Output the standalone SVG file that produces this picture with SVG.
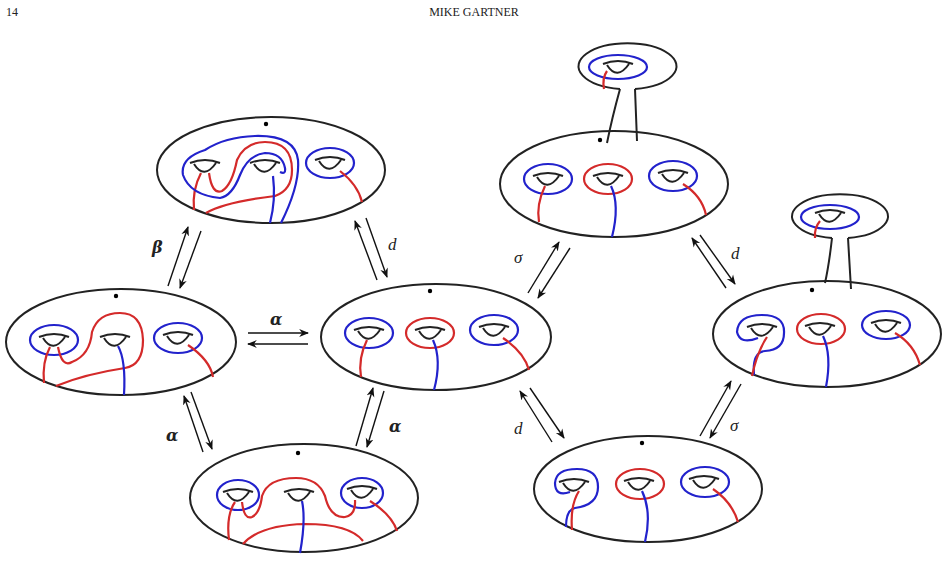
<svg xmlns="http://www.w3.org/2000/svg" width="949" height="580" viewBox="0 0 949 580">
<style>
.s{fill:none;stroke:#222;stroke-width:2}
.h{fill:none;stroke:#222;stroke-width:2}
.b{fill:none;stroke:#2222cc;stroke-width:2.2}
.r{fill:none;stroke:#d42a2a;stroke-width:2.2}
.a{stroke:#111;stroke-width:1.4;marker-end:url(#m)}
.t{font-family:"Liberation Serif",serif;font-size:17px;font-style:italic;fill:#222}
.tb{font-family:"DejaVu Serif",serif;font-size:16px;font-style:italic;font-weight:bold;fill:#222}
.hd{font-family:"Liberation Serif",serif;font-size:12px;fill:#222}
</style>
<defs>
<marker id="m" viewBox="0 0 10 10" refX="9" refY="5" markerWidth="7" markerHeight="7" orient="auto"><path d="M0,1 L10,5 L0,9 L3,5z" fill="#111"/></marker>
<path id="hole" class="h" d="M-15,-5 Q0,-11 15,-5 M-11,-4 Q-1,12 11,-5"/>
</defs>
<rect width="949" height="580" fill="#fff"/>
<text class="hd" x="6" y="16">14</text>
<text class="hd" x="474" y="16" text-anchor="middle">MIKE GARTNER</text>

<g id="n1">
<ellipse class="s" cx="271" cy="170" rx="114" ry="53"/>
<circle cx="266" cy="124" r="2.2"/>
<use href="#hole" x="205" y="168"/><use href="#hole" x="265" y="168"/><use href="#hole" x="330" y="165"/>
<ellipse class="b" cx="330" cy="163" rx="24" ry="15"/>
<path class="r" d="M340,171 Q358,185 362,202"/>
<path class="r" d="M201,173 Q192,190 194,210"/>
<path class="r" d="M209,173 Q212,195 222,191 Q232,185 237,160 Q245,142 265,142 Q292,142 292,170 Q292,190 275,196 Q225,202 206,213"/>
<path class="b" d="M270,223 Q276,200 273,176"/>
<path class="b" d="M281,223 Q300,185 298,160 Q295,135 255,136 Q225,137 205,150 Q180,158 183,175 Q190,195 220,198 Q232,196 240,175 Q248,155 265,153 Q282,153 285,168 Q286,175 280,172"/>
</g>

<g id="n2">
<ellipse class="s" cx="121" cy="342" rx="115" ry="53"/>
<circle cx="116" cy="296" r="2.2"/>
<use href="#hole" x="54" y="342"/><use href="#hole" x="115" y="342"/><use href="#hole" x="178" y="340"/>
<ellipse class="b" cx="54" cy="340" rx="24" ry="15"/>
<ellipse class="b" cx="178" cy="338" rx="24" ry="15"/>
<path class="r" d="M50,347 Q42,362 44,383"/>
<path class="r" d="M58,347 Q62,368 72,362 Q90,355 92,332 Q98,313 120,313 Q142,313 143,340 Q143,365 125,368 Q85,374 56,386"/>
<path class="b" d="M118,346 Q126,360 124,395"/>
<path class="r" d="M188,345 Q210,360 213,377"/>
</g>

<g id="n3">
<ellipse class="s" cx="436" cy="337" rx="115" ry="53"/>
<circle cx="430" cy="291" r="2.2"/>
<use href="#hole" x="369" y="335"/><use href="#hole" x="430" y="335"/><use href="#hole" x="494" y="332"/>
<ellipse class="b" cx="369" cy="333" rx="24" ry="15"/>
<ellipse class="r" cx="430" cy="333" rx="24" ry="15"/>
<ellipse class="b" cx="494" cy="330" rx="24" ry="15"/>
<path class="r" d="M367,340 Q358,358 361,377"/>
<path class="b" d="M433,340 Q442,360 434,390"/>
<path class="r" d="M503,338 Q524,352 529,370"/>
</g>

<g id="n4">
<ellipse class="s" cx="304" cy="498" rx="114" ry="54"/>
<circle cx="298" cy="453" r="2.2"/>
<use href="#hole" x="238" y="497"/><use href="#hole" x="299" y="497"/><use href="#hole" x="362" y="494"/>
<ellipse class="b" cx="238" cy="495" rx="21" ry="15"/>
<ellipse class="b" cx="362" cy="493" rx="21" ry="15"/>
<path class="r" d="M235,502 Q226,515 229,540"/>
<path class="r" d="M242,502 Q244,520 252,517 Q260,513 262,496 Q268,478 296,478 Q318,478 325,496 Q330,518 345,517 Q356,515 355,500"/>
<path class="r" d="M243,544 Q260,525 305,524 Q350,524 363,541"/>
<path class="b" d="M302,501 Q306,520 300,553"/>
<path class="r" d="M370,501 Q392,515 397,531"/>
</g>

<g id="n5">
<path class="s" d="M620,89 Q612,118 607,143 M635,89 L637,141"/>
<ellipse class="s" cx="614" cy="184" rx="114" ry="53"/>
<path class="s" d="M620,89 A49,23 0 1 1 635,89"/>
<circle cx="600" cy="140" r="2.2"/>
<use href="#hole" x="618" y="69"/>
<ellipse class="b" cx="618" cy="67" rx="29" ry="12"/>
<path class="r" d="M607,71 Q602,78 604,89"/>
<use href="#hole" x="548" y="181"/><use href="#hole" x="608" y="181"/><use href="#hole" x="673" y="178"/>
<ellipse class="b" cx="548" cy="179" rx="24" ry="15"/>
<ellipse class="r" cx="608" cy="179" rx="24" ry="15"/>
<ellipse class="b" cx="673" cy="176" rx="24" ry="15"/>
<path class="r" d="M545,186 Q536,205 539,222"/>
<path class="b" d="M611,186 Q620,205 612,237"/>
<path class="r" d="M683,184 Q702,196 706,215"/>
</g>

<g id="n6">
<path class="s" d="M832,238 Q829,265 825,283 M848,238 L851,289"/>
<ellipse class="s" cx="827" cy="334" rx="114" ry="53"/>
<path class="s" d="M832,238 A48,22 0 1 1 848,238"/>
<circle cx="812" cy="290" r="2.2"/>
<use href="#hole" x="830" y="218"/>
<ellipse class="b" cx="830" cy="217" rx="29" ry="12"/>
<path class="r" d="M820,221 Q814,228 815,238"/>
<use href="#hole" x="762" y="332"/><use href="#hole" x="820" y="331"/><use href="#hole" x="886" y="328"/>
<path class="b" d="M758,338 Q740,345 737,332 Q738,315 762,315 Q785,315 784,333 Q784,350 765,351 Q752,352 754,375"/>
<ellipse class="r" cx="821" cy="329" rx="24" ry="15"/>
<ellipse class="b" cx="886" cy="325" rx="24" ry="14"/>
<path class="r" d="M767,337 Q757,352 752,376"/>
<path class="b" d="M823,336 Q832,355 826,387"/>
<path class="r" d="M895,333 Q914,344 920,365"/>
</g>

<g id="n7">
<ellipse class="s" cx="648" cy="489" rx="114" ry="53"/>
<circle cx="642" cy="443" r="2.2"/>
<use href="#hole" x="574" y="487"/><use href="#hole" x="639" y="486"/><use href="#hole" x="704" y="484"/>
<path class="b" d="M570,492 Q555,497 555,483 Q556,469 577,469 Q598,469 598,487 Q598,505 575,508 Q566,510 566,527"/>
<ellipse class="r" cx="640" cy="484" rx="24" ry="15"/>
<ellipse class="b" cx="705" cy="482" rx="24" ry="15"/>
<path class="r" d="M579,491 Q570,505 572,530"/>
<path class="b" d="M642,491 Q652,512 645,542"/>
<path class="r" d="M713,489 Q732,502 738,522"/>
</g>

<g id="connectors">
<line class="a" x1="168" y1="286" x2="188" y2="227"/>
<line class="a" x1="201" y1="231" x2="180" y2="288"/>
<line class="a" x1="377" y1="280" x2="355" y2="221"/>
<line class="a" x1="366" y1="218" x2="387" y2="277"/>
<line class="a" x1="248" y1="333" x2="308" y2="333"/>
<line class="a" x1="308" y1="344" x2="248" y2="344"/>
<line class="a" x1="203" y1="452" x2="184" y2="396"/>
<line class="a" x1="191" y1="392" x2="212" y2="449"/>
<line class="a" x1="356" y1="446" x2="373" y2="388"/>
<line class="a" x1="384" y1="391" x2="367" y2="447"/>
<line class="a" x1="528" y1="293" x2="559" y2="242"/>
<line class="a" x1="570" y1="248" x2="538" y2="298"/>
<line class="a" x1="726" y1="288" x2="692" y2="238"/>
<line class="a" x1="700" y1="235" x2="735" y2="284"/>
<line class="a" x1="552" y1="442" x2="520" y2="391"/>
<line class="a" x1="530" y1="388" x2="564" y2="438"/>
<line class="a" x1="700" y1="436" x2="731" y2="381"/>
<line class="a" x1="741" y1="384" x2="710" y2="438"/>
</g>
<text class="tb" x="152" y="253">β</text>
<text class="t" x="388" y="250">d</text>
<text class="tb" x="270" y="325">α</text>
<text class="tb" x="166" y="441">α</text>
<text class="tb" x="389" y="432">α</text>
<text class="t" x="514" y="263">σ</text>
<text class="t" x="731" y="259">d</text>
<text class="t" x="514" y="434">d</text>
<text class="t" x="730" y="431">σ</text>
</svg>
